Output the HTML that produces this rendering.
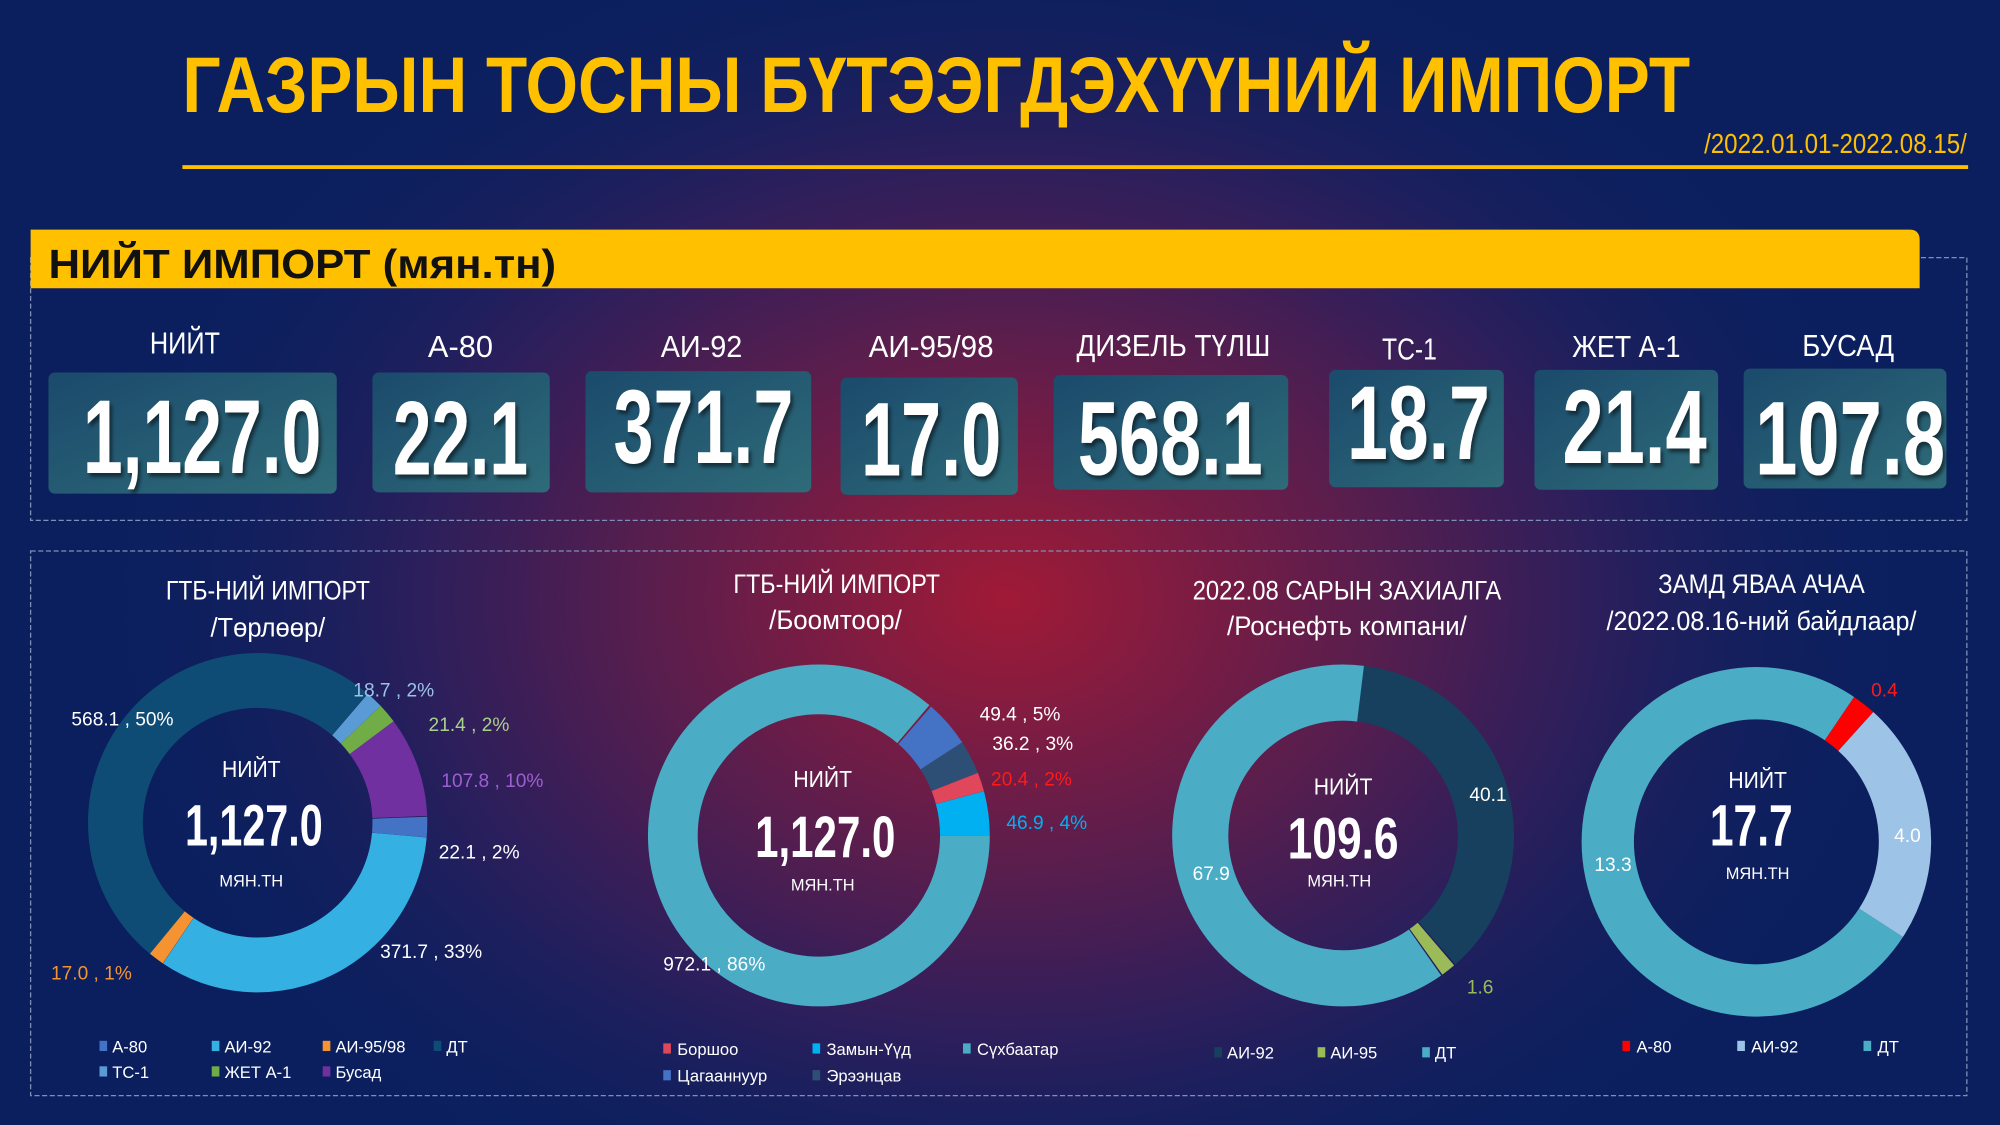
<!DOCTYPE html>
<html><head><meta charset="utf-8"><style>
html,body{margin:0;padding:0;background:#0b1f5e;}
svg{display:block}
text{font-family:"Liberation Sans Narrow","Liberation Sans",sans-serif;}
</style></head><body>
<svg width="2000" height="1125" viewBox="0 0 1568 882" preserveAspectRatio="none" xmlns="http://www.w3.org/2000/svg">
<defs>
<radialGradient id="glow" cx="790" cy="470" r="720" gradientUnits="userSpaceOnUse" gradientTransform="translate(790 470) scale(1 0.75) translate(-790 -470)">
<stop offset="0" stop-color="#a01a36"/>
<stop offset="0.3" stop-color="#6a1d48"/>
<stop offset="0.65" stop-color="#2a1f5c"/>
<stop offset="1" stop-color="#0b1f5e" stop-opacity="0"/>
</radialGradient>
<linearGradient id="card" x1="0" y1="0" x2="1" y2="1">
<stop offset="0" stop-color="#1b4a6c"/>
<stop offset="1" stop-color="#2e6b78"/>
</linearGradient>
<filter id="sh" x="-10%" y="-10%" width="130%" height="130%"><feDropShadow dx="2" dy="3" stdDeviation="1.5" flood-color="#000" flood-opacity="0.5"/></filter>
</defs>
<rect width="1568" height="882" fill="#0b1f5e"/>
<rect width="1568" height="882" fill="url(#glow)"/>

<!-- Title -->
<text x="143" y="88" font-size="62" font-weight="bold" fill="#ffc000" textLength="1182" lengthAdjust="spacingAndGlyphs">ГАЗРЫН ТОСНЫ БҮТЭЭГДЭХҮҮНИЙ ИМПОРТ</text>
<text x="1542" y="120" font-size="22" fill="#ffc000" text-anchor="end" textLength="206" lengthAdjust="spacingAndGlyphs">/2022.01.01-2022.08.15/</text>
<rect x="143" y="129.5" width="1400" height="3" fill="#ffc000"/>

<!-- Section 1 -->
<rect x="24" y="202" width="1518" height="206" fill="none" stroke="#7f8fb8" stroke-width="1" stroke-dasharray="4 2"/>
<path d="M24 180 H1497 Q1505 180 1505 188 V226 H24 Z" fill="#ffc000"/>
<text x="38" y="218" font-size="32" font-weight="bold" fill="#111" textLength="398" lengthAdjust="spacingAndGlyphs">НИЙТ ИМПОРТ (мян.тн)</text>

<g fill="#fff" font-size="24" text-anchor="middle">
<text x="145" y="277" textLength="55" lengthAdjust="spacingAndGlyphs">НИЙТ</text>
<text x="361" y="280" textLength="51" lengthAdjust="spacingAndGlyphs">А-80</text>
<text x="550" y="280" textLength="64" lengthAdjust="spacingAndGlyphs">АИ-92</text>
<text x="730" y="280" textLength="98" lengthAdjust="spacingAndGlyphs">АИ-95/98</text>
<text x="920" y="279" textLength="152" lengthAdjust="spacingAndGlyphs">ДИЗЕЛЬ ТҮЛШ</text>
<text x="1105" y="282" textLength="43" lengthAdjust="spacingAndGlyphs">ТС-1</text>
<text x="1275" y="280" textLength="85" lengthAdjust="spacingAndGlyphs">ЖЕТ А-1</text>
<text x="1449" y="279" textLength="72" lengthAdjust="spacingAndGlyphs">БУСАД</text>
</g>
<g fill="url(#card)">
<rect x="38" y="292" width="226" height="95" rx="5"/>
<rect x="292" y="292" width="139" height="94" rx="5"/>
<rect x="459" y="291" width="177" height="95" rx="5"/>
<rect x="659" y="296" width="139" height="92" rx="5"/>
<rect x="826" y="294" width="184" height="90" rx="5"/>
<rect x="1042" y="290" width="137" height="92" rx="5"/>
<rect x="1203" y="290" width="144" height="94" rx="5"/>
<rect x="1367" y="289" width="159" height="94" rx="5"/>
</g>
<g fill="#fff" font-size="82" font-weight="bold" filter="url(#sh)">
<text x="65" y="371" textLength="187" lengthAdjust="spacingAndGlyphs">1,127.0</text>
<text x="308" y="372" textLength="106" lengthAdjust="spacingAndGlyphs">22.1</text>
<text x="481" y="363" textLength="141" lengthAdjust="spacingAndGlyphs">371.7</text>
<text x="675" y="373" textLength="110" lengthAdjust="spacingAndGlyphs">17.0</text>
<text x="845" y="372" textLength="145" lengthAdjust="spacingAndGlyphs">568.1</text>
<text x="1056" y="360" textLength="112" lengthAdjust="spacingAndGlyphs">18.7</text>
<text x="1225" y="363" textLength="113" lengthAdjust="spacingAndGlyphs">21.4</text>
<text x="1376" y="372" textLength="149" lengthAdjust="spacingAndGlyphs">107.8</text>
</g>

<!-- Section 2 -->
<rect x="24" y="432" width="1518" height="427" fill="none" stroke="#7f8fb8" stroke-width="1" stroke-dasharray="4 2"/>

<g fill="#fff" font-size="21" text-anchor="middle">
<text x="210" y="470" textLength="160" lengthAdjust="spacingAndGlyphs">ГТБ-НИЙ ИМПОРТ</text>
<text x="210" y="499" textLength="90" lengthAdjust="spacingAndGlyphs">/Төрлөөр/</text>
<text x="656" y="465" textLength="162" lengthAdjust="spacingAndGlyphs">ГТБ-НИЙ ИМПОРТ</text>
<text x="655" y="493" textLength="104" lengthAdjust="spacingAndGlyphs">/Боомтоор/</text>
<text x="1056" y="470" textLength="242" lengthAdjust="spacingAndGlyphs">2022.08 САРЫН ЗАХИАЛГА</text>
<text x="1056" y="498" textLength="188" lengthAdjust="spacingAndGlyphs">/Роснефть компани/</text>
<text x="1381" y="465" textLength="162" lengthAdjust="spacingAndGlyphs">ЗАМД ЯВАА АЧАА</text>
<text x="1381" y="494" textLength="243" lengthAdjust="spacingAndGlyphs">/2022.08.16-ний байдлаар/</text>
</g>

<!-- Chart 1 -->
<g fill="none" stroke-width="43">
<circle cx="202" cy="645" r="111.5" pathLength="360" stroke="#0f4c75" stroke-dasharray="181.5 360" transform="rotate(129 202 645)"/>
<circle cx="202" cy="645" r="111.5" pathLength="360" stroke="#35b0e2" stroke-dasharray="119 360" transform="rotate(5 202 645)"/>
<circle cx="202" cy="645" r="111.5" pathLength="360" stroke="#4472c4" stroke-dasharray="7 360" transform="rotate(-2 202 645)"/>
<circle cx="202" cy="645" r="111.5" pathLength="360" stroke="#f59332" stroke-dasharray="5.4 360" transform="rotate(124 202 645)"/>
<circle cx="202" cy="645" r="111.5" pathLength="360" stroke="#5b9bd5" stroke-dasharray="6 360" transform="rotate(-49.5 202 645)"/>
<circle cx="202" cy="645" r="111.5" pathLength="360" stroke="#70ad47" stroke-dasharray="6.8 360" transform="rotate(-43.5 202 645)"/>
<circle cx="202" cy="645" r="111.5" pathLength="360" stroke="#7030a0" stroke-dasharray="34.4 360" transform="rotate(-36.7 202 645)"/>
</g>
<!-- Chart 2 -->
<g fill="none" stroke-width="39">
<circle cx="642" cy="655" r="114.5" pathLength="360" stroke="#4bacc6" stroke-dasharray="310.5 360" transform="rotate(0 642 655)"/>
<circle cx="642" cy="655" r="114.5" pathLength="360" stroke="#4472c4" stroke-dasharray="16 360" transform="rotate(-49 642 655)"/>
<circle cx="642" cy="655" r="114.5" pathLength="360" stroke="#2d4f75" stroke-dasharray="11.5 360" transform="rotate(-33 642 655)"/>
<circle cx="642" cy="655" r="114.5" pathLength="360" stroke="#e0475a" stroke-dasharray="6.5 360" transform="rotate(-21.5 642 655)"/>
<circle cx="642" cy="655" r="114.5" pathLength="360" stroke="#00b0f0" stroke-dasharray="15 360" transform="rotate(-15 642 655)"/>
</g>
<!-- Chart 3 -->
<g fill="none" stroke-width="44">
<circle cx="1053" cy="655" r="112" pathLength="360" stroke="#4bacc6" stroke-dasharray="222.5 360" transform="rotate(55 1053 655)"/>
<circle cx="1053" cy="655" r="112" pathLength="360" stroke="#17405f" stroke-dasharray="132 360" transform="rotate(-83 1053 655)"/>
<circle cx="1053" cy="655" r="112" pathLength="360" stroke="#9bbb59" stroke-dasharray="5 360" transform="rotate(49.5 1053 655)"/>
</g>
<!-- Chart 4 -->
<g fill="none" stroke-width="41">
<circle cx="1377" cy="660" r="116.5" pathLength="360" stroke="#4bacc6" stroke-dasharray="271 360" transform="rotate(33 1377 660)"/>
<circle cx="1377" cy="660" r="116.5" pathLength="360" stroke="#ff0000" stroke-dasharray="8 360" transform="rotate(-56 1377 660)"/>
<circle cx="1377" cy="660" r="116.5" pathLength="360" stroke="#9dc3e6" stroke-dasharray="81 360" transform="rotate(-48 1377 660)"/>
</g>

<!-- center texts -->
<g fill="#fff" text-anchor="middle">
<text x="197" y="609" font-size="18" textLength="46" lengthAdjust="spacingAndGlyphs">НИЙТ</text>
<text x="199" y="663" font-size="46" font-weight="bold" textLength="108" lengthAdjust="spacingAndGlyphs">1,127.0</text>
<text x="197" y="695" font-size="13" textLength="50" lengthAdjust="spacingAndGlyphs">МЯН.ТН</text>
<text x="645" y="617" font-size="18" textLength="46" lengthAdjust="spacingAndGlyphs">НИЙТ</text>
<text x="647" y="672" font-size="46" font-weight="bold" textLength="110" lengthAdjust="spacingAndGlyphs">1,127.0</text>
<text x="645" y="698" font-size="13" textLength="50" lengthAdjust="spacingAndGlyphs">МЯН.ТН</text>
<text x="1053" y="623" font-size="18" textLength="46" lengthAdjust="spacingAndGlyphs">НИЙТ</text>
<text x="1053" y="673" font-size="46" font-weight="bold" textLength="87" lengthAdjust="spacingAndGlyphs">109.6</text>
<text x="1050" y="695" font-size="13" textLength="50" lengthAdjust="spacingAndGlyphs">МЯН.ТН</text>
<text x="1378" y="618" font-size="18" textLength="46" lengthAdjust="spacingAndGlyphs">НИЙТ</text>
<text x="1373" y="663" font-size="46" font-weight="bold" textLength="65" lengthAdjust="spacingAndGlyphs">17.7</text>
<text x="1378" y="689" font-size="13" textLength="50" lengthAdjust="spacingAndGlyphs">МЯН.ТН</text>
</g>

<!-- data labels -->
<g font-size="15">
<text x="277" y="546" fill="#9dc3e6">18.7 , 2%</text>
<text x="336" y="573" fill="#a9d18e">21.4 , 2%</text>
<text x="346" y="617" fill="#9e5fd0">107.8 , 10%</text>
<text x="344" y="673" fill="#fff">22.1 , 2%</text>
<text x="298" y="751" fill="#fff">371.7 , 33%</text>
<text x="40" y="768" fill="#f59332">17.0 , 1%</text>
<text x="56" y="569" fill="#fff">568.1 , 50%</text>
<text x="768" y="565" fill="#fff">49.4 , 5%</text>
<text x="778" y="588" fill="#fff">36.2 , 3%</text>
<text x="777" y="616" fill="#ff1a1a">20.4 , 2%</text>
<text x="789" y="650" fill="#00b0f0">46.9 , 4%</text>
<text x="520" y="761" fill="#fff">972.1 , 86%</text>
<text x="1152" y="628" fill="#fff">40.1</text>
<text x="935" y="690" fill="#fff">67.9</text>
<text x="1150" y="779" fill="#9bbb59">1.6</text>
<text x="1467" y="546" fill="#ff1a1a">0.4</text>
<text x="1485" y="660" fill="#fff">4.0</text>
<text x="1250" y="683" fill="#fff">13.3</text>
</g>

<!-- legends -->
<g font-size="13" fill="#fff">
<rect x="78" y="816" width="6" height="8" fill="#4472c4"/><text x="88" y="825">А-80</text>
<rect x="166" y="816" width="6" height="8" fill="#35b0e2"/><text x="176" y="825">АИ-92</text>
<rect x="253" y="816" width="6" height="8" fill="#f59332"/><text x="263" y="825">АИ-95/98</text>
<rect x="340" y="816" width="6" height="8" fill="#0f4c75"/><text x="350" y="825">ДТ</text>
<rect x="78" y="836" width="6" height="8" fill="#5b9bd5"/><text x="88" y="845">ТС-1</text>
<rect x="166" y="836" width="6" height="8" fill="#70ad47"/><text x="176" y="845">ЖЕТ А-1</text>
<rect x="253" y="836" width="6" height="8" fill="#7030a0"/><text x="263" y="845">Бусад</text>

<rect x="520" y="818" width="6" height="8" fill="#e0475a"/><text x="531" y="827">Боршоо</text>
<rect x="637" y="818" width="6" height="8" fill="#00b0f0"/><text x="648" y="827">Замын-Үүд</text>
<rect x="755" y="818" width="6" height="8" fill="#4bacc6"/><text x="766" y="827">Сүхбаатар</text>
<rect x="520" y="839" width="6" height="8" fill="#4472c4"/><text x="531" y="848">Цагааннуур</text>
<rect x="637" y="839" width="6" height="8" fill="#2d4f75"/><text x="648" y="848">Эрээнцав</text>

<rect x="952" y="821" width="6" height="8" fill="#17405f"/><text x="962" y="830">АИ-92</text>
<rect x="1033" y="821" width="6" height="8" fill="#9bbb59"/><text x="1043" y="830">АИ-95</text>
<rect x="1115" y="821" width="6" height="8" fill="#4bacc6"/><text x="1125" y="830">ДТ</text>

<rect x="1272" y="816" width="6" height="8" fill="#ff0000"/><text x="1283" y="825">А-80</text>
<rect x="1362" y="816" width="6" height="8" fill="#9dc3e6"/><text x="1373" y="825">АИ-92</text>
<rect x="1461" y="816" width="6" height="8" fill="#4bacc6"/><text x="1472" y="825">ДТ</text>
</g>
</svg>
</body></html>
